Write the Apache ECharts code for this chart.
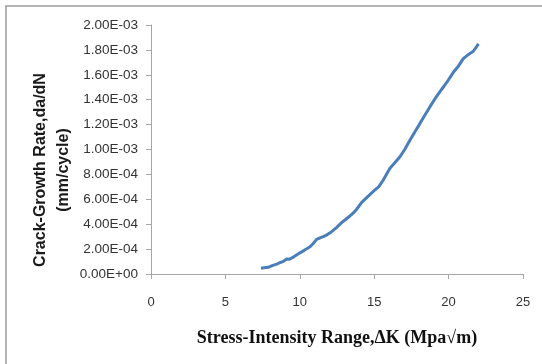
<!DOCTYPE html>
<html>
<head>
<meta charset="utf-8">
<script src="https://cdn.jsdelivr.net/npm/echarts@6/dist/echarts.min.js"></script>
<style>
  html, body { margin: 0; padding: 0; background: #fff; }
  #chart { width: 542px; height: 364px; }
</style>
</head>
<body>
<div id="chart"></div>
<script>
// stress-intensity range (MPa√m)
var deltaK = [7.39, 7.6, 7.88, 8.1, 8.2, 8.45, 8.67, 8.9, 9.12, 9.3, 9.6, 10.01, 10.3, 10.69, 10.9,
  11.13, 11.4, 11.58, 11.8, 12.14, 12.48, 12.81, 13.1, 13.37, 13.6, 13.82, 14.16, 14.6, 15.05, 15.3,
  15.61, 15.8, 16.06, 16.4, 16.73, 17.05, 17.41, 17.75, 18.08, 18.4, 18.75, 19.1, 19.42, 19.7,
  19.98, 20.32, 20.6, 20.99, 21.3, 21.66, 21.85, 22.0]
// crack growth rate da/dN (mm/cycle)
var dadN = [4.6e-5, 5.0e-5, 5.4e-5, 6.5e-5, 5.8e-5, 8.0e-5, 9.1e-5, 1.02e-4, 1.2e-4, 1.18e-4, 1.38e-4,
  1.7e-4, 1.9e-4, 2.19e-4, 2.45e-4, 2.78e-4, 2.92e-4, 3.0e-4, 3.13e-4, 3.4e-4, 3.75e-4, 4.12e-4,
  4.4e-4, 4.66e-4, 4.9e-4, 5.2e-4, 5.75e-4, 6.25e-4, 6.75e-4, 7.0e-4, 7.55e-4, 7.95e-4, 8.49e-4,
  8.95e-4, 9.42e-4, 1.0e-3, 1.076e-3, 1.145e-3, 1.21e-3, 1.275e-3, 1.344e-3, 1.41e-3, 1.464e-3,
  1.51e-3, 1.558e-3, 1.62e-3, 1.66e-3, 1.73e-3, 1.76e-3, 1.79e-3, 1.82e-3, 1.85e-3]

function sciLabel(v) {
  if (v === 0) return '0.00E+00'
  var s = v.toExponential(2).toUpperCase()
  var parts = s.split('E')
  var exp = parseInt(parts[1], 10)
  var sign = exp < 0 ? '-' : '+'
  var abs = Math.abs(exp)
  return parts[0] + 'E' + sign + (abs < 10 ? '0' + abs : abs)
}

var chart = echarts.init(document.getElementById('chart'))
chart.setOption({
  animation: false,
  grid: { left: 151, right: 19, top: 25, bottom: 90 },
  xAxis: {
    type: 'value',
    min: 0,
    max: 25,
    interval: 5,
    splitLine: { show: false },
    axisLine: { show: true, lineStyle: { color: '#a6a6a6', width: 1 } },
    axisTick: { show: true, length: 5, lineStyle: { color: '#a6a6a6' } },
    axisLabel: { color: '#333', fontFamily: 'Liberation Sans', fontSize: 13, margin: 22 }
  },
  yAxis: {
    type: 'value',
    min: 0,
    max: 0.002,
    interval: 0.0002,
    splitLine: { show: false },
    axisLine: { show: true, lineStyle: { color: '#a6a6a6', width: 1 } },
    axisTick: { show: true, length: 5, lineStyle: { color: '#a6a6a6' } },
    axisLabel: {
      color: '#333', fontFamily: 'Liberation Sans', fontSize: 13.5, margin: 13,
      formatter: sciLabel
    }
  },
  graphic: [
    {
      type: 'rect',
      shape: { x: 6, y: 6, width: 560, height: 380 },
      style: { fill: 'none', stroke: '#9a9a9a', lineWidth: 1.5 },
      silent: true
    },
    {
      type: 'text',
      x: 29, y: 170,
      rotation: Math.PI / 2,
      style: {
        text: 'Crack-Growth Rate,da/dN\n(mm/cycle)',
        font: 'bold 16px "Liberation Sans"',
        fill: '#1a1a1a',
        textAlign: 'center',
        textVerticalAlign: 'top',
        lineHeight: 23
      }
    },
    {
      type: 'text',
      x: 337, y: 338,
      style: {
        text: 'Stress-Intensity Range,ΔK (Mpa√m)',
        font: 'bold 18px "Liberation Serif"',
        fill: '#111',
        textAlign: 'center',
        textVerticalAlign: 'middle'
      }
    }
  ],
  series: [
    {
      type: 'line',
      data: deltaK.map(function (k, i) { return [k, dadN[i]] }),
      showSymbol: false,
      smooth: false,
      lineStyle: { color: '#4a7ebb', width: 3 }
    }
  ]
})
</script>
</body>
</html>
